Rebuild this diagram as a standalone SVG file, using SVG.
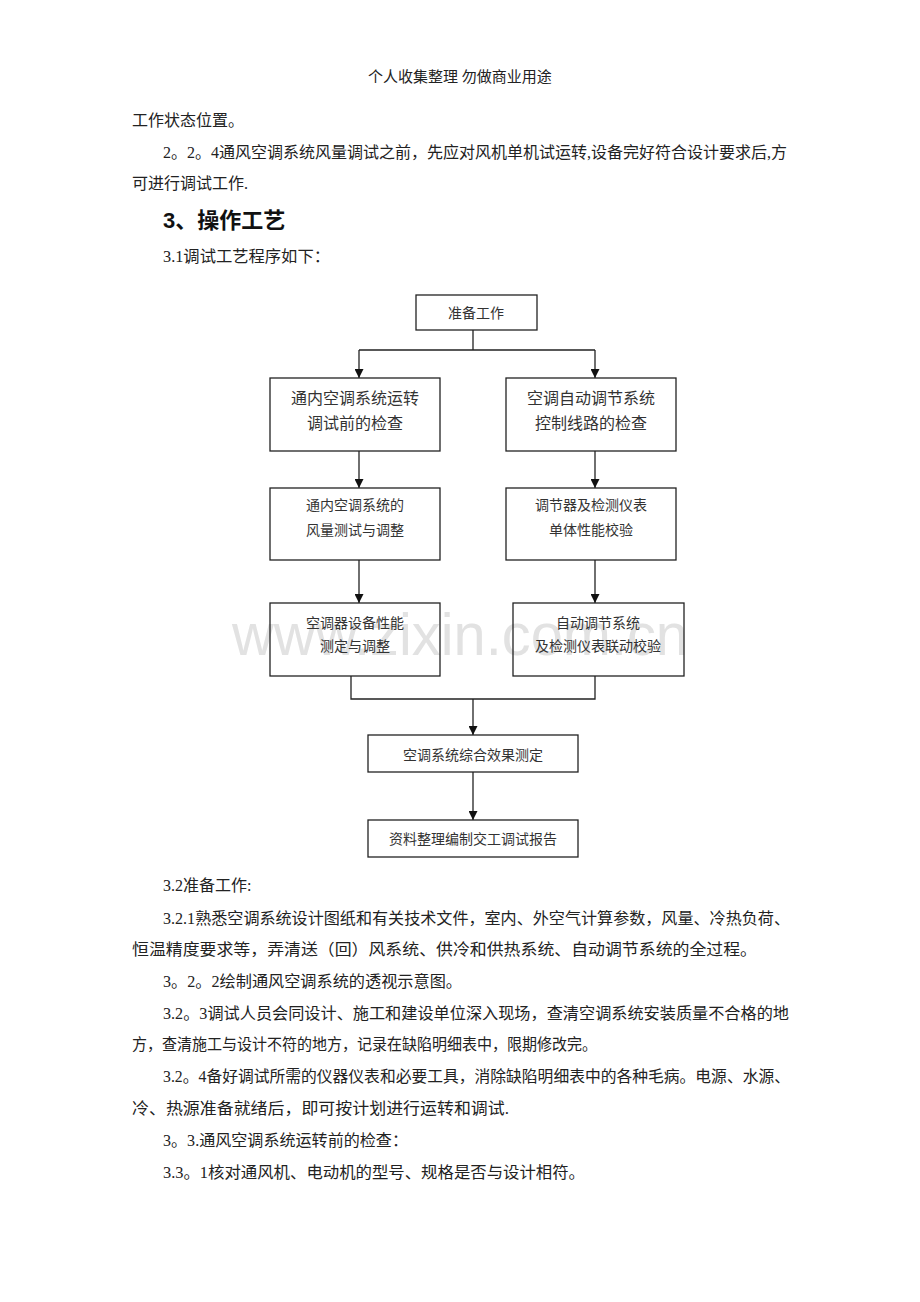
<svg xmlns="http://www.w3.org/2000/svg" width="920" height="1302" viewBox="0 0 920 1302">
<style>
.t{font-family:"Liberation Serif","Noto Sans CJK SC",serif;font-size:16px;fill:#222}
.h{font-family:"Liberation Serif","Noto Sans CJK SC",serif;font-size:15px;fill:#222}
.b{font-family:"Liberation Sans","Noto Sans CJK SC",sans-serif;font-size:22px;font-weight:bold;fill:#111}
.n rect{fill:none;stroke:#222;stroke-width:1.3}
.nt{font-family:"Liberation Serif","Noto Sans CJK SC",serif;font-size:14px;fill:#333;text-anchor:middle}
.nl{font-size:16px}
.c path{fill:none;stroke:#222;stroke-width:1.3}
.wm{font-family:"Liberation Sans",Arial,sans-serif;font-size:60px;fill:#e2e2e2}
</style>
<defs>
<marker id="ah" viewBox="0 0 10 10" refX="10" refY="5" markerWidth="9" markerHeight="9" markerUnits="userSpaceOnUse" orient="auto">
<path d="M0,0 L10,5 L0,10 z" fill="#111"/>
</marker>
</defs>
<rect width="920" height="1302" fill="#fff"/>
<text class="wm" x="232" y="655" textLength="456" lengthAdjust="spacingAndGlyphs">www.zixin.com.cn</text>

<text class="h" x="460" y="82" text-anchor="middle">个人收集整理 勿做商业用途</text>
<text class="t" x="132" y="126">工作状态位置。</text>
<text class="t" x="163" y="158" textLength="624" lengthAdjust="spacingAndGlyphs">2。2。4通风空调系统风量调试之前，先应对风机单机试运转,设备完好符合设计要求后,方</text>
<text class="t" x="132" y="189">可进行调试工作.</text>
<text class="b" x="163" y="228">3、操作工艺</text>
<text class="t" x="163" y="262" textLength="167" lengthAdjust="spacingAndGlyphs">3.1调试工艺程序如下：</text>

<g class="c" id="connectors">
<path d="M473,330 V350 M359,350 H595"/>
<path d="M359,350 V378" marker-end="url(#ah)"/>
<path d="M595,350 V378" marker-end="url(#ah)"/>
<path d="M359,451 V488" marker-end="url(#ah)"/>
<path d="M595,451 V488" marker-end="url(#ah)"/>
<path d="M359,560 V603" marker-end="url(#ah)"/>
<path d="M595,560 V603" marker-end="url(#ah)"/>
<path d="M351,676 V699 H595 V676"/>
<path d="M473,699 V735" marker-end="url(#ah)"/>
<path d="M473,772 V820" marker-end="url(#ah)"/>
</g>

<g class="n" id="n0"><rect x="416" y="295" width="121" height="35"/><text class="nt" x="476" y="318">准备工作</text></g>
<g class="n" id="n1l"><rect x="270" y="378" width="170" height="73"/><text class="nt nl" x="355" y="404">通内空调系统运转</text><text class="nt nl" x="355" y="429">调试前的检查</text></g>
<g class="n" id="n1r"><rect x="506" y="378" width="170" height="73"/><text class="nt nl" x="591" y="404">空调自动调节系统</text><text class="nt nl" x="591" y="429">控制线路的检查</text></g>
<g class="n" id="n2l"><rect x="270" y="488" width="170" height="72"/><text class="nt" x="355" y="510">通内空调系统的</text><text class="nt" x="355" y="535">风量测试与调整</text></g>
<g class="n" id="n2r"><rect x="506" y="488" width="170" height="72"/><text class="nt" x="591" y="510">调节器及检测仪表</text><text class="nt" x="591" y="535">单体性能校验</text></g>
<g class="n" id="n3l"><rect x="270" y="603" width="170" height="73"/><text class="nt" x="355" y="628">空调器设备性能</text><text class="nt" x="355" y="651">测定与调整</text></g>
<g class="n" id="n3r"><rect x="513" y="603" width="171" height="73"/><text class="nt" x="598" y="628">自动调节系统</text><text class="nt" x="598" y="651">及检测仪表联动校验</text></g>
<g class="n" id="n4"><rect x="368" y="735" width="210" height="37"/><text class="nt" x="473" y="760">空调系统综合效果测定</text></g>
<g class="n" id="n5"><rect x="368" y="820" width="210" height="37"/><text class="nt" x="473" y="844">资料整理编制交工调试报告</text></g>

<text class="t" x="163" y="891">3.2准备工作:</text>
<text class="t" x="163" y="924" textLength="627" lengthAdjust="spacingAndGlyphs">3.2.1熟悉空调系统设计图纸和有关技术文件，室内、外空气计算参数，风量、冷热负荷、</text>
<text class="t" x="132" y="955" textLength="625" lengthAdjust="spacingAndGlyphs">恒温精度要求等，弄清送（回）风系统、供冷和供热系统、自动调节系统的全过程。</text>
<text class="t" x="163" y="987" textLength="299" lengthAdjust="spacingAndGlyphs">3。2。2绘制通风空调系统的透视示意图。</text>
<text class="t" x="163" y="1019" textLength="626" lengthAdjust="spacingAndGlyphs">3.2。3调试人员会同设计、施工和建设单位深入现场，查清空调系统安装质量不合格的地</text>
<text class="t" x="132" y="1050" textLength="465" lengthAdjust="spacingAndGlyphs">方，查清施工与设计不符的地方，记录在缺陷明细表中，限期修改完。</text>
<text class="t" x="163" y="1082" textLength="627" lengthAdjust="spacingAndGlyphs">3.2。4备好调试所需的仪器仪表和必要工具，消除缺陷明细表中的各种毛病。电源、水源、</text>
<text class="t" x="132" y="1114" textLength="377" lengthAdjust="spacingAndGlyphs">冷、热源准备就绪后，即可按计划进行运转和调试.</text>
<text class="t" x="163" y="1146" textLength="245" lengthAdjust="spacingAndGlyphs">3。3.通风空调系统运转前的检查：</text>
<text class="t" x="163" y="1178" textLength="422" lengthAdjust="spacingAndGlyphs">3.3。1核对通风机、电动机的型号、规格是否与设计相符。</text>
</svg>
